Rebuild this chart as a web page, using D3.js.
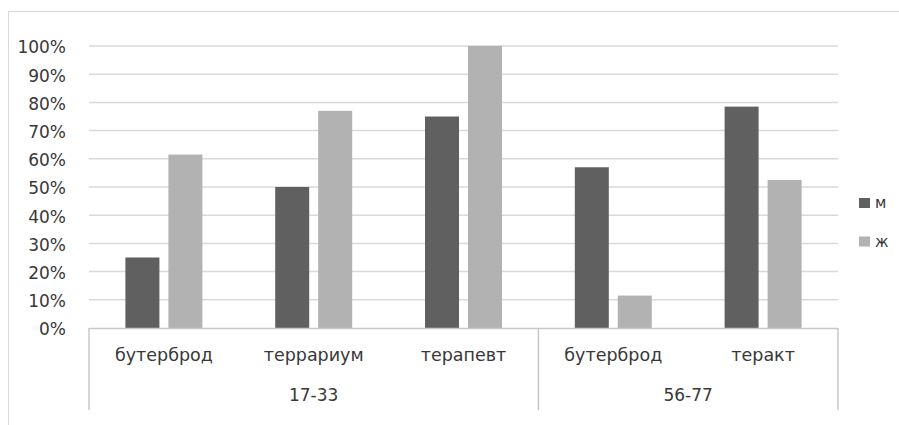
<!DOCTYPE html>
<html>
<head>
<meta charset="utf-8">
<script src="https://cdn.jsdelivr.net/npm/d3@7"></script>
<style>
  html, body { margin: 0; padding: 0; background: #fff; }
  svg { display: block; }
  text { font-family: "DejaVu Sans", Verdana, sans-serif; fill: #383838; }
</style>
</head>
<body>
<svg id="chart" width="899" height="425"></svg>
<script>
// Word categories, grouped by age band
const categories = ["бутерброд", "террариум", "терапевт", "бутерброд", "теракт"];
const groupLabels = ["17-33", "56-77"];
const groupSizes = [3, 2];

// Share of respondents, percent
const seriesNames = ["м", "ж"];
const valuesM = [25, 50, 75, 57, 78.5];
const valuesF = [61.5, 77, 100, 11.5, 52.5];
const seriesColors = ["#606060", "#b2b2b2"];

const yTicks = [0, 10, 20, 30, 40, 50, 60, 70, 80, 90, 100];

const svg = d3.select("#chart");
const plot = { left: 89, right: 838, top: 46, bottom: 328 };

// outer chart frame (extends past the right and bottom edges)
svg.append("rect")
  .attr("x", 8.5).attr("y", 11.5)
  .attr("width", 1000).attr("height", 1000)
  .attr("fill", "none").attr("stroke", "#d9d9d9").attr("stroke-width", 1);

const y = d3.scaleLinear().domain([0, 100]).range([plot.bottom, plot.top]);
const x = d3.scaleBand()
  .domain(d3.range(categories.length))
  .range([plot.left, plot.right])
  .paddingInner(0).paddingOuter(0);
const xs = d3.scaleBand()
  .domain(seriesNames)
  .range([-38.5, 38.5])
  .paddingInner(0.209).paddingOuter(0);

// gridlines
svg.append("g")
  .selectAll("line")
  .data(yTicks.filter(d => d > 0))
  .join("line")
  .attr("x1", plot.left).attr("x2", plot.right)
  .attr("y1", d => y(d)).attr("y2", d => y(d))
  .attr("stroke", "#d9d9d9").attr("stroke-width", 1.5);

// y axis labels
const yAxis = d3.axisLeft(y).tickValues(yTicks).tickFormat(d => d + "%").tickSize(0).tickPadding(0);
const yg = svg.append("g").attr("transform", `translate(66,0)`).call(yAxis);
yg.select(".domain").remove();
yg.selectAll("text")
  .attr("font-size", 17)
  .attr("font-family", "DejaVu Sans, Verdana, sans-serif")
  .attr("fill", "#383838")
  .attr("dy", "0.4em");

// bars
const rows = categories.map((c, i) => ({ i, vals: [valuesM[i], valuesF[i]] }));
const cat = svg.append("g").selectAll("g")
  .data(rows)
  .join("g")
  .attr("transform", d => `translate(${x(d.i) + x.bandwidth() / 2},0)`);
cat.selectAll("rect")
  .data(d => d.vals.map((v, k) => ({ v, k })))
  .join("rect")
  .attr("x", d => xs(seriesNames[d.k]))
  .attr("width", xs.bandwidth())
  .attr("y", d => y(d.v))
  .attr("height", d => y(0) - y(d.v))
  .attr("fill", d => seriesColors[d.k]);

// category axis line
svg.append("line")
  .attr("x1", plot.left).attr("x2", plot.right)
  .attr("y1", plot.bottom + 0.5).attr("y2", plot.bottom + 0.5)
  .attr("stroke", "#c8c8c8").attr("stroke-width", 1.5);

// group dividers
const bounds = [0];
groupSizes.forEach(s => bounds.push(bounds[bounds.length - 1] + s));
svg.append("g").selectAll("line")
  .data(bounds)
  .join("line")
  .attr("x1", d => d < categories.length ? x(d) : plot.right)
  .attr("x2", d => d < categories.length ? x(d) : plot.right)
  .attr("y1", plot.bottom).attr("y2", 410)
  .attr("stroke", "#c8c8c8").attr("stroke-width", 1.5);

// category labels
svg.append("g").selectAll("text")
  .data(categories)
  .join("text")
  .attr("x", (d, i) => x(i) + x.bandwidth() / 2)
  .attr("y", 361)
  .attr("text-anchor", "middle")
  .attr("font-size", 17.5)
  .text(d => d);

// group labels
svg.append("g").selectAll("text")
  .data(groupLabels)
  .join("text")
  .attr("x", (d, g) => {
    const a = x(bounds[g]);
    const b = bounds[g + 1] < categories.length ? x(bounds[g + 1]) : plot.right;
    return (a + b) / 2;
  })
  .attr("y", 401)
  .attr("text-anchor", "middle")
  .attr("font-size", 17)
  .text(d => d);

// legend
const legend = svg.append("g").selectAll("g")
  .data(seriesNames)
  .join("g")
  .attr("transform", (d, i) => `translate(859,${198 + i * 38.5})`);
legend.append("rect")
  .attr("width", 11).attr("height", 10)
  .attr("fill", (d, i) => seriesColors[i]);
legend.append("text")
  .attr("x", 16).attr("y", 5)
  .attr("dy", "0.35em")
  .attr("font-size", 15)
  .text(d => d);
</script>
</body>
</html>
